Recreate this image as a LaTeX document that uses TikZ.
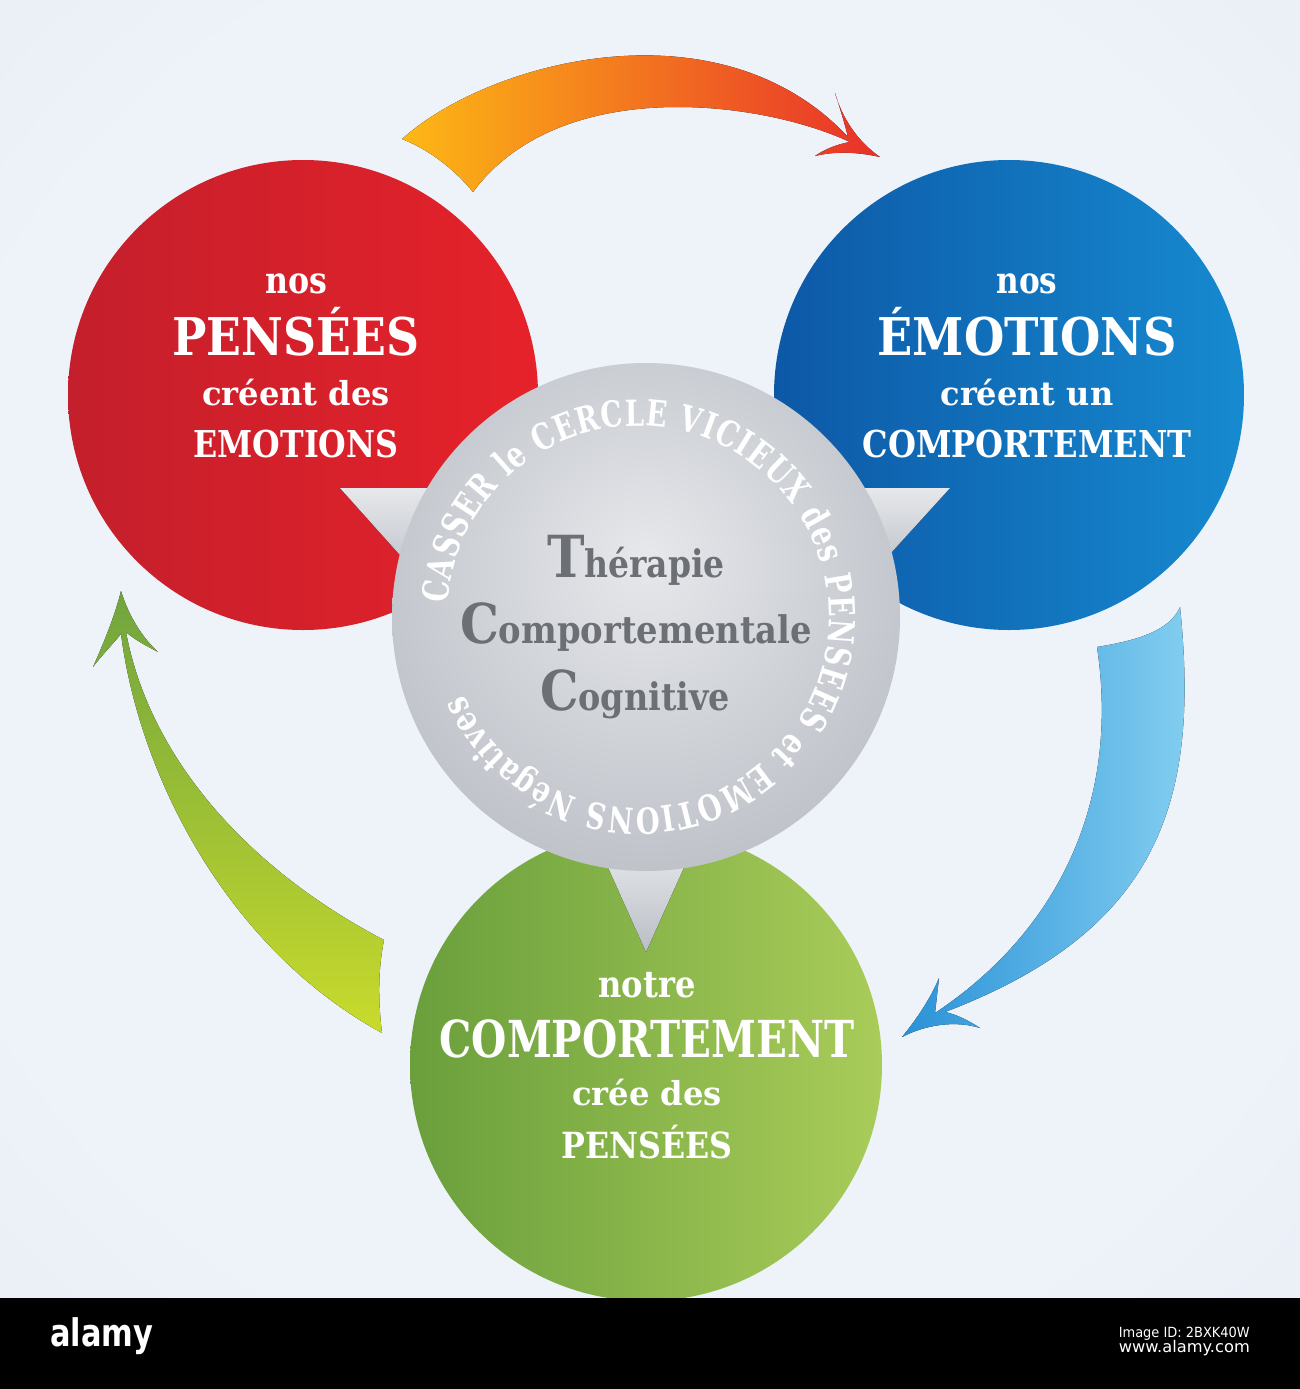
\documentclass[tikz,border=0pt]{standalone}
\usepackage{fontspec}
\usepackage{graphicx}
\setmainfont{DejaVu Serif}
\newfontfamily\wsans{DejaVu Sans}
\newfontfamily\circf[FakeStretch=0.76]{DejaVu Serif}
\usetikzlibrary{decorations.text}
\definecolor{bgIn}{HTML}{EEF3FA}
\definecolor{bgOut}{HTML}{D9DEE6}
\definecolor{redL}{HTML}{C41F2C}
\definecolor{redR}{HTML}{E6222A}
\definecolor{bluL}{HTML}{0D58A6}
\definecolor{bluR}{HTML}{168AD0}
\definecolor{grnL}{HTML}{6A9F3C}
\definecolor{grnR}{HTML}{A9CC59}
\definecolor{gIn}{HTML}{E7E8EC}
\definecolor{gMid}{HTML}{D0D3D8}
\definecolor{gOut}{HTML}{A3A8B1}
\definecolor{triA}{HTML}{E6E8EB}
\definecolor{triB}{HTML}{BABEC5}
\definecolor{orA}{HTML}{FDB815}
\definecolor{orB}{HTML}{F5821F}
\definecolor{orC}{HTML}{E8302A}
\definecolor{blA}{HTML}{2A92D7}
\definecolor{blB}{HTML}{86D0F1}
\definecolor{grA}{HTML}{6FA43E}
\definecolor{grB}{HTML}{C9DB2C}
\definecolor{gtxt}{HTML}{6C6F74}
\pgfdeclareradialshading{bgsh}{\pgfpoint{0bp}{0bp}}{color(0bp)=(bgIn); color(28bp)=(bgIn); color(72bp)=(bgOut)}
\pgfdeclareradialshading{grayball}{\pgfpoint{0bp}{6bp}}{color(0bp)=(gIn); color(16bp)=(gMid); color(50bp)=(gOut); color(75bp)=(gOut)}
\newcommand{\fitw}[3]{\resizebox{#1pt}{\height}{\fontsize{#2}{#2}\selectfont\bfseries #3}}
\begin{document}
\begin{tikzpicture}[x=1pt,y=1pt,
  disc/.style={circle, inner sep=0pt, minimum size=470pt},
  wtext/.style={text=white, inner sep=0pt, anchor=base},
  gtext/.style={text=gtxt, inner sep=0pt, anchor=base},
  tri/.style={top color=triA, bottom color=triB}]
\useasboundingbox (0,0) rectangle (1300,-1389);
% background
\path[shading=bgsh] (0,0) rectangle (1300,-1298);
% arrows
\coordinate (oTail) at (402,-139);
\fill[left color=orA, middle color=orB, right color=orC]
  (oTail) .. controls (490,-60) and (720,0) .. (848,-137)
  .. controls (845,-125) and (840,-108) .. (835,-93)
  .. controls (842,-118) and (858,-142) .. (880,-157)
  .. controls (858,-152) and (835,-151) .. (815,-156)
  .. controls (825,-149) and (838,-144) .. (850,-142)
  .. controls (760,-100) and (560,-75) .. (473,-192)
  .. controls (455,-170) and (430,-150) .. (oTail) -- cycle;
\coordinate (bTail) at (1097,-647);
\fill[left color=blA, right color=blB]
  (bTail) .. controls (1140,-640) and (1170,-630) .. (1180,-607)
  .. controls (1200,-800) and (1160,-930) .. (945,-1012)
  .. controls (955,-1014) and (968,-1020) .. (980,-1028)
  .. controls (955,-1020) and (925,-1025) .. (902,-1037)
  .. controls (920,-1015) and (932,-995) .. (939,-978)
  .. controls (937,-995) and (936,-1005) .. (935,-1013)
  .. controls (1060,-930) and (1120,-800) .. (bTail) -- cycle;
\coordinate (gTail) at (384,-940);
\fill[top color=grA, bottom color=grB]
  (gTail) .. controls (378,-970) and (378,-1000) .. (382,-1033)
  .. controls (230,-950) and (140,-780) .. (121,-634)
  .. controls (112,-645) and (102,-655) .. (93,-667)
  .. controls (105,-640) and (115,-615) .. (121,-591)
  .. controls (130,-620) and (145,-640) .. (158,-652)
  .. controls (145,-645) and (135,-640) .. (126,-632)
  .. controls (150,-760) and (250,-870) .. (gTail) -- cycle;
% circles
\node[disc, left color=redL, right color=redR] (red) at (303,-395) {};
\node[disc, left color=bluL, right color=bluR] (blue) at (1009,-395) {};
\node[disc, minimum size=472pt, left color=grnL, right color=grnR] (green) at (646,-1065) {};
% pointers of the central disc
\fill[tri] (340,-488) -- (480,-488) -- (425,-583) -- cycle;
\fill[tri] (950,-488) -- (810,-488) -- (870,-576) -- cycle;
\fill[tri] (598,-845) -- (694,-845) -- (646,-952) -- cycle;
\node[circle, inner sep=0pt, minimum size=508pt, shading=grayball] (gray) at (646,-617) {};
% circular text
\path[decorate, decoration={text along path, text align={fit to path},
  text={|\circf\fontsize{36}{36}\selectfont\bfseries\color{white}|CASSER le CERCLE VICIEUX des PENSEES et EMOTIONS Négatives}}]
  (638,-617) ++(176:191) arc[start angle=176, end angle=-156, radius=191];
% central text
\node[gtext] (t1) at (636,-577) {\resizebox{178pt}{\height}{\fontsize{38}{38}\selectfont\bfseries{\fontsize{58}{58}\selectfont T}hérapie}};
\node[gtext] (t2) at (636,-643) {\resizebox{352pt}{\height}{\fontsize{38}{38}\selectfont\bfseries{\fontsize{55}{55}\selectfont C}omportementale}};
\node[gtext] (t3) at (635,-710) {\resizebox{190pt}{\height}{\fontsize{38}{38}\selectfont\bfseries{\fontsize{55}{55}\selectfont C}ognitive}};
% red text
\node[wtext] (r1) at (296,-293) {\fitw{62}{37}{nos}};
\node[wtext] (r2) at (296,-355) {\fitw{247}{52}{PENSÉES}};
\node[wtext] (r3) at (296,-405) {\fitw{188}{33}{créent des}};
\node[wtext] (r4) at (296,-457) {\fitw{205}{37}{EMOTIONS}};
% blue text
\node[wtext] (b1) at (1027,-293) {\fitw{61}{37}{nos}};
\node[wtext] (b2) at (1027,-355) {\fitw{299}{52}{ÉMOTIONS}};
\node[wtext] (b3) at (1027,-405) {\fitw{173}{33}{créent un}};
\node[wtext] (b4) at (1027,-457) {\fitw{329}{37}{COMPORTEMENT}};
% green text
\node[wtext] (g1) at (647,-997) {\fitw{97}{37}{notre}};
\node[wtext] (g2) at (647,-1057) {\fitw{415}{51}{COMPORTEMENT}};
\node[wtext] (g3) at (647,-1105) {\fitw{150}{33}{crée des}};
\node[wtext] (g4) at (647,-1158) {\fitw{171}{36}{PENSÉES}};
% bottom bar
\fill[black] (0,-1298) rectangle (1300,-1389);
\node[text=white, inner sep=0pt, anchor=base west] (logo) at (50,-1346) {\resizebox{103pt}{\height}{\wsans\fontsize{38}{38}\selectfont\bfseries alamy}};
\node[text=white, inner sep=0pt, anchor=base east] (iid) at (1250,-1337) {\resizebox{131pt}{\height}{\wsans\fontsize{14}{14}\selectfont Image ID: 2BXK40W}};
\node[text=white, inner sep=0pt, anchor=base east] (www) at (1250,-1352) {\resizebox{131pt}{\height}{\wsans\fontsize{16}{16}\selectfont www.alamy.com}};
\end{tikzpicture}
\end{document}
